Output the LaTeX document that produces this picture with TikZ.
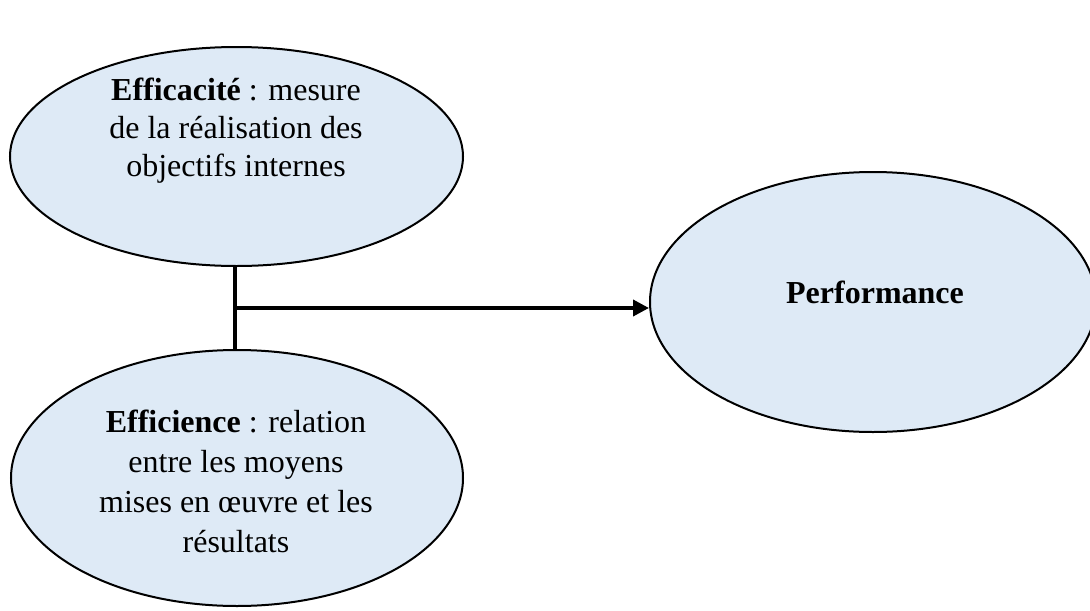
\documentclass[tikz,border=0pt]{standalone}
\usepackage{fontspec}
\setmainfont{Liberation Serif}
\usetikzlibrary{shapes.geometric,arrows.meta}
\definecolor{ellfill}{RGB}{222,234,246}
\tikzset{
  bubble/.style={ellipse, draw=black, fill=ellfill, line width=1.5pt, inner sep=0pt},
  txt/.style={align=center, font=\fontsize{24}{30}\selectfont, inner sep=0pt},
  txtb/.style={align=center, font=\fontsize{24}{28.5}\selectfont, inner sep=0pt},
  conn/.style={line width=2.8pt},
}
\begin{document}
\begin{tikzpicture}[x=0.75pt,y=-0.75pt]
\useasboundingbox (0,0) rectangle (1090,611);
\node[bubble, minimum width=453*0.75pt, minimum height=219*0.75pt] (e1) at (236.5,156.5) {};
\node[bubble, minimum width=452*0.75pt, minimum height=256*0.75pt] (e2) at (237,478) {};
\node[bubble, minimum width=446*0.75pt, minimum height=260*0.75pt] (perf) at (873,302) {};
\node[txtb] (t1) at (236,131) {\textbf{Efficacité} : mesure\\de la réalisation des\\objectifs internes};
\node[txt] (t2) at (236,481) {\textbf{Efficience} : relation\\entre les moyens\\mises en œuvre et les\\résultats};
\node[txt] (t3) at (875,292) {\textbf{Performance}};
\coordinate (top) at (235,266);
\coordinate (bot) at (235,350);
\coordinate (j) at (235,308);
\draw[conn] (top) -- (bot);
\draw[conn, -{Triangle[length=12pt,width=12pt]}] (j) -- (j -| perf.west);
\end{tikzpicture}
\end{document}
